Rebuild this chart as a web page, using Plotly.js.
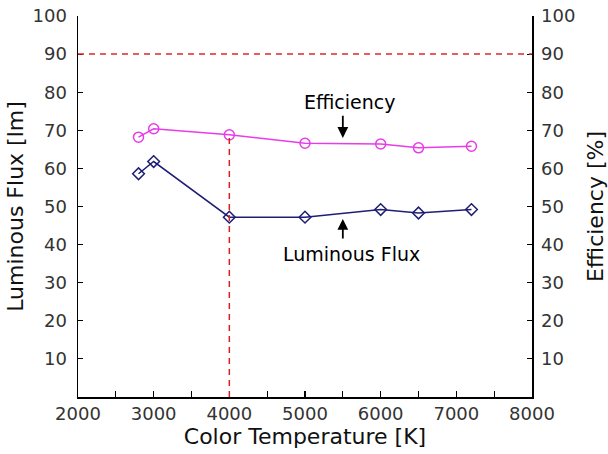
<!DOCTYPE html>
<html>
<head>
<meta charset="utf-8">
<script src="https://cdn.plot.ly/plotly-3.0.1.min.js"></script>
<style>
  html, body { margin: 0; padding: 0; background: #fff; }
  #chart { width: 608px; height: 454px; }
</style>
</head>
<body>
<div id="chart"></div>
<script>
// Colour temperature of each lamp sample [K]
const colorTemps = [2800, 3000, 4000, 5000, 6000, 6500, 7200];
// Luminous flux [lm] (left axis)
const luminousFlux = [58.6, 61.8, 47.2, 47.2, 49.2, 48.3, 49.2];
// Efficiency [%] (right axis)
const efficiency = [68.2, 70.4, 68.8, 66.6, 66.4, 65.4, 65.8];

// Reference levels
const targetEfficiency = 90;
const selectedTemp = 4000;

// Axis ticks
const xTickVals = [2000, 2500, 3000, 3500, 4000, 4500, 5000, 5500, 6000, 6500, 7000, 7500, 8000];
const xTickText = ['2000', '', '3000', '', '4000', '', '5000', '', '6000', '', '7000', '', '8000'];
const yTickVals = [10, 20, 30, 40, 50, 60, 70, 80, 90, 100];

const selIdx = colorTemps.indexOf(selectedTemp);

const FAMILY = 'DejaVu Sans, Liberation Sans, Arial, sans-serif';
const tickFont = { family: FAMILY, size: 18, color: '#333' };
const titleFont = { family: FAMILY, size: 22, color: '#111' };
const noteFont = { family: FAMILY, size: 19, color: '#000' };

const traces = [
  {
    x: colorTemps, y: efficiency, yaxis: 'y2', type: 'scatter', mode: 'lines+markers',
    name: 'Efficiency',
    line: { color: '#e83ce8', width: 1.5 },
    marker: { symbol: 'circle-open', size: 10, color: '#e83ce8', line: { width: 1.5 } }
  },
  {
    x: colorTemps, y: luminousFlux, type: 'scatter', mode: 'lines+markers',
    name: 'Luminous Flux',
    line: { color: '#1e1e74', width: 1.5 },
    marker: { symbol: 'diamond-open', size: 9, color: '#1e1e74', line: { width: 1.5 } }
  }
];

const layout = {
  width: 608, height: 454,
  margin: { l: 78, r: 76, t: 16, b: 57 },
  paper_bgcolor: '#fff', plot_bgcolor: '#fff',
  showlegend: false,
  font: tickFont,
  xaxis: {
    range: [2000, 8000], tickvals: xTickVals, ticktext: xTickText,
    ticks: 'inside', ticklen: 6, tickwidth: 1.2, tickcolor: '#000',
    showline: true, linecolor: '#000', linewidth: 1.5,
    showgrid: false, zeroline: false, tickfont: tickFont,
    title: { text: 'Color Temperature [K]', font: titleFont, standoff: 4 }
  },
  yaxis: {
    range: [0, 100], tickvals: yTickVals,
    ticks: 'inside', ticklen: 5, tickwidth: 1.2, tickcolor: '#000',
    showline: true, linecolor: '#000', linewidth: 1.5,
    showgrid: false, zeroline: false, tickfont: tickFont, ticklabelstandoff: 6,
    title: { text: 'Luminous Flux [lm]', font: titleFont, standoff: 3 }
  },
  yaxis2: {
    range: [0, 100], tickvals: yTickVals, overlaying: 'y', side: 'right',
    ticks: 'inside', ticklen: 5, tickwidth: 1.2, tickcolor: '#000',
    showline: true, linecolor: '#000', linewidth: 1.5,
    showgrid: false, zeroline: false, tickfont: tickFont, ticklabelstandoff: 4,
    title: { text: 'Efficiency [%]', font: titleFont, standoff: 13 }
  },
  shapes: [
    {
      type: 'line', xref: 'x', yref: 'y', x0: 2000, x1: 8000,
      y0: targetEfficiency, y1: targetEfficiency,
      line: { color: '#e02828', width: 1.5, dash: '6px,5px' }
    },
    {
      type: 'line', xref: 'x', yref: 'y', x0: selectedTemp, x1: selectedTemp,
      y0: 0, y1: efficiency[selIdx],
      line: { color: '#d82020', width: 1.5, dash: '6px,5px' }
    }
  ],
  annotations: [
    {
      x: 5500, y: 68, xref: 'x', yref: 'y', showarrow: true,
      ax: 5500, ay: 74.2, axref: 'x', ayref: 'y',
      arrowhead: 2, arrowsize: 1.2, arrowwidth: 1.8, arrowcolor: '#000', text: ''
    },
    {
      x: 5600, y: 77.5, xref: 'x', yref: 'y', showarrow: false,
      text: 'Efficiency', font: noteFont
    },
    {
      x: 5500, y: 46.7, xref: 'x', yref: 'y', showarrow: true,
      ax: 5500, ay: 41.2, axref: 'x', ayref: 'y',
      arrowhead: 2, arrowsize: 1.2, arrowwidth: 1.8, arrowcolor: '#000', text: ''
    },
    {
      x: 5620, y: 37.6, xref: 'x', yref: 'y', showarrow: false,
      text: 'Luminous Flux', font: noteFont
    }
  ]
};

Plotly.newPlot('chart', traces, layout, { staticPlot: true, displayModeBar: false });
</script>
</body>
</html>
